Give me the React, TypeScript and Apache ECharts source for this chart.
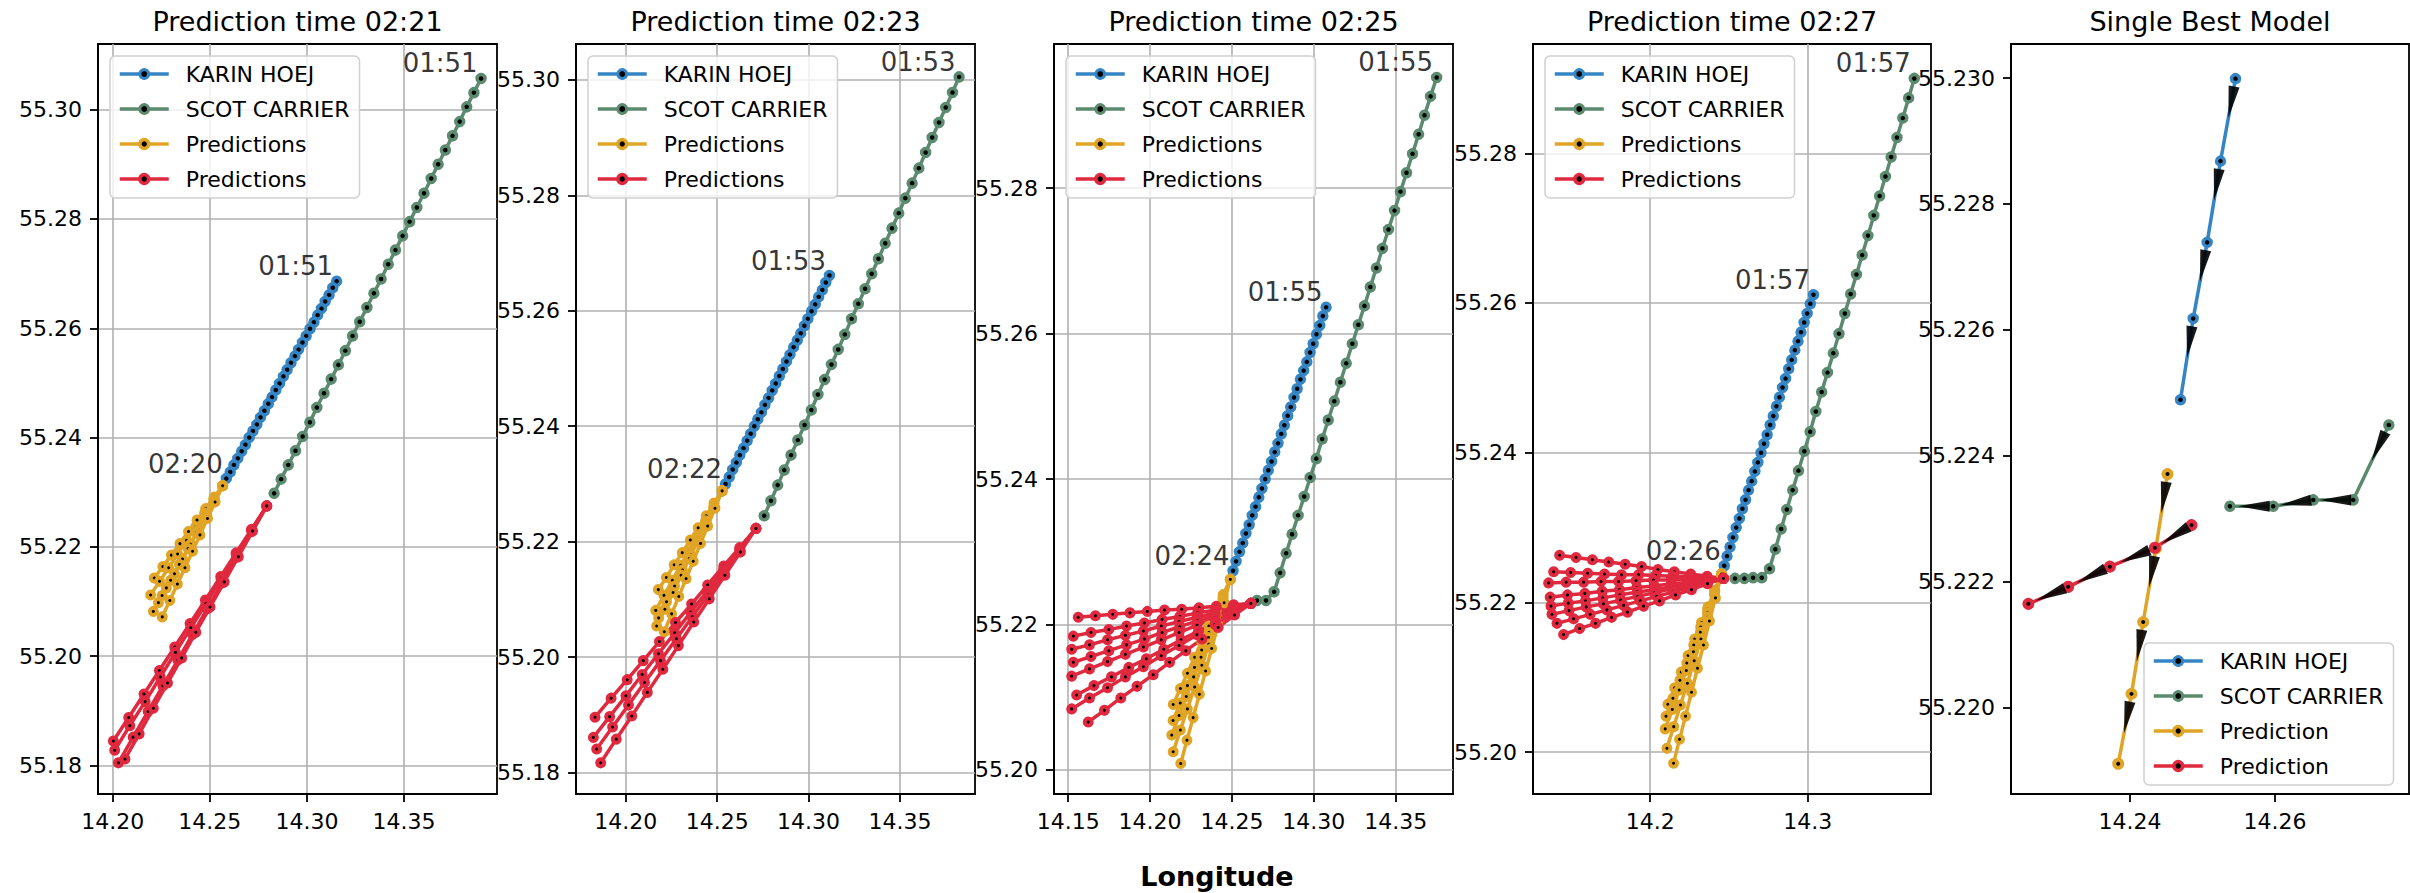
import React, { useEffect, useRef } from "react";
import * as echarts from "echarts";

// ---------------- data ----------------
const PANEL_TITLES = ["Prediction time 02:21", "Prediction time 02:23", "Prediction time 02:25", "Prediction time 02:27", "Single Best Model"];
const TIMES = ["01:51","01:52","01:53","01:54","01:55","01:56","01:57","01:58","01:59","02:00",
  "02:01","02:02","02:03","02:04","02:05","02:06","02:07","02:08","02:09","02:10",
  "02:11","02:12","02:13","02:14","02:15","02:16","02:17","02:18","02:19","02:20",
  "02:21","02:22","02:23","02:24","02:25","02:26"];
const WINDOW_START = [0, 2, 4, 6];
const WINDOW_LEN = 30;
const BEST_START = 31;
const BEST_LEN = 5;

const KARIN_LON = [14.3153,14.3133,14.3114,14.3094,14.3075,14.3055,14.3036,14.3016,14.2996,14.2977,
  14.2957,14.2938,14.2918,14.2898,14.2879,14.2859,14.2840,14.2820,14.2801,14.2781,
  14.2761,14.2742,14.2722,14.2703,14.2683,14.2664,14.2644,14.2624,14.2605,14.2585,
  14.2566,14.25457,14.25250,14.25066,14.24873,14.24698];
const KARIN_LAT = [55.2686,55.2674,55.2661,55.2649,55.2636,55.2624,55.2611,55.2599,55.2586,55.2574,
  55.2561,55.2549,55.2537,55.2524,55.2512,55.2499,55.2487,55.2474,55.2462,55.2449,
  55.2437,55.2424,55.2412,55.2400,55.2387,55.2375,55.2362,55.2350,55.2337,55.2325,
  55.2312,55.22999,55.22868,55.22739,55.22618,55.22489];
const SCOT_LON = [14.3897,14.3860,14.3823,14.3787,14.3750,14.3713,14.3676,14.3640,14.3603,14.3566,
  14.3529,14.3493,14.3456,14.3419,14.3382,14.3345,14.3309,14.3272,14.3235,14.3198,
  14.3162,14.3125,14.3088,14.3051,14.3015,14.2978,14.2941,14.2904,14.2867,14.2831,
  14.2794,14.27572,14.27080,14.26529,14.25977,14.25379];
const SCOT_LAT = [55.3057,55.3031,55.3005,55.2978,55.2952,55.2926,55.2900,55.2874,55.2847,55.2821,
  55.2795,55.2769,55.2743,55.2717,55.2690,55.2664,55.2638,55.2612,55.2586,55.2559,
  55.2533,55.2507,55.2481,55.2455,55.2428,55.2402,55.2376,55.2350,55.2324,55.2298,
  55.2271,55.22449,55.22330,55.22330,55.22320,55.22320];

// prediction fans (KARIN HOEJ = orange, SCOT CARRIER = red)
const KARIN_PRED_0221 = [
  [[14.2566,55.2312],[14.2522,55.2291],[14.2478,55.2270],[14.2434,55.2249],[14.2390,55.2228],[14.2346,55.2206],[14.2302,55.2185],[14.2258,55.2164],[14.2214,55.2143]],
  [[14.2566,55.2312],[14.2520,55.2287],[14.2473,55.2262],[14.2427,55.2237],[14.2380,55.2212],[14.2334,55.2187],[14.2288,55.2162],[14.2241,55.2137],[14.2195,55.2112]],
  [[14.2566,55.2312],[14.2525,55.2285],[14.2483,55.2258],[14.2442,55.2232],[14.2400,55.2205],[14.2359,55.2178],[14.2318,55.2151],[14.2276,55.2125],[14.2235,55.2098]],
  [[14.2566,55.2312],[14.2521,55.2283],[14.2477,55.2254],[14.2432,55.2226],[14.2388,55.2197],[14.2343,55.2168],[14.2298,55.2139],[14.2254,55.2111],[14.2209,55.2082]],
  [[14.2566,55.2312],[14.2527,55.2282],[14.2488,55.2252],[14.2449,55.2222],[14.2411,55.2192],[14.2372,55.2162],[14.2333,55.2132],[14.2294,55.2102],[14.2255,55.2072]],
];
const SCOT_PRED_0221 = [
  [[14.2793,55.2275],[14.2714,55.2232],[14.2635,55.2189],[14.2556,55.2146],[14.2477,55.2103],[14.2398,55.2060],[14.2319,55.2017],[14.2240,55.1974],[14.2161,55.1931],[14.2082,55.1888],[14.2003,55.1845]],
  [[14.2793,55.2275],[14.2715,55.2230],[14.2636,55.2186],[14.2558,55.2141],[14.2480,55.2096],[14.2402,55.2052],[14.2323,55.2007],[14.2245,55.1962],[14.2167,55.1917],[14.2088,55.1873],[14.2010,55.1828]],
  [[14.2793,55.2275],[14.2717,55.2228],[14.2640,55.2181],[14.2564,55.2134],[14.2487,55.2087],[14.2411,55.2040],[14.2335,55.1993],[14.2258,55.1946],[14.2182,55.1899],[14.2105,55.1852],[14.2029,55.1805]],
  [[14.2793,55.2275],[14.2720,55.2229],[14.2647,55.2182],[14.2574,55.2136],[14.2501,55.2090],[14.2428,55.2044],[14.2355,55.1997],[14.2282,55.1951],[14.2209,55.1905],[14.2136,55.1858],[14.2063,55.1812]],
];
const KARIN_PRED_0223 = [
  [[14.2527,55.2288],[14.2483,55.2267],[14.2440,55.2245],[14.2396,55.2224],[14.2353,55.2203],[14.2309,55.2181],[14.2265,55.2160],[14.2222,55.2138],[14.2178,55.2117]],
  [[14.2527,55.2288],[14.2482,55.2262],[14.2436,55.2236],[14.2391,55.2210],[14.2346,55.2184],[14.2300,55.2159],[14.2255,55.2133],[14.2209,55.2107],[14.2164,55.2081]],
  [[14.2527,55.2288],[14.2484,55.2261],[14.2440,55.2233],[14.2397,55.2206],[14.2353,55.2178],[14.2310,55.2151],[14.2267,55.2123],[14.2223,55.2096],[14.2180,55.2068]],
  [[14.2527,55.2288],[14.2482,55.2259],[14.2438,55.2230],[14.2393,55.2200],[14.2348,55.2171],[14.2303,55.2142],[14.2259,55.2112],[14.2214,55.2083],[14.2169,55.2054]],
  [[14.2527,55.2288],[14.2488,55.2258],[14.2448,55.2227],[14.2409,55.2197],[14.2369,55.2166],[14.2330,55.2136],[14.2290,55.2105],[14.2251,55.2075],[14.2211,55.2044]],
];
const SCOT_PRED_0223 = [
  [[14.2712,55.2223],[14.2624,55.2190],[14.2536,55.2158],[14.2448,55.2125],[14.2360,55.2092],[14.2272,55.2060],[14.2184,55.2027],[14.2096,55.1994],[14.2008,55.1961],[14.1920,55.1929],[14.1832,55.1896]],
  [[14.2712,55.2223],[14.2623,55.2187],[14.2534,55.2151],[14.2445,55.2114],[14.2356,55.2078],[14.2268,55.2042],[14.2179,55.2006],[14.2090,55.1970],[14.2001,55.1933],[14.1912,55.1897],[14.1823,55.1861]],
  [[14.2712,55.2223],[14.2625,55.2185],[14.2538,55.2146],[14.2451,55.2108],[14.2364,55.2070],[14.2277,55.2032],[14.2190,55.1994],[14.2103,55.1956],[14.2015,55.1917],[14.1928,55.1879],[14.1841,55.1841]],
  [[14.2712,55.2223],[14.2627,55.2182],[14.2542,55.2142],[14.2457,55.2101],[14.2372,55.2061],[14.2288,55.2020],[14.2203,55.1979],[14.2118,55.1939],[14.2033,55.1898],[14.1948,55.1858],[14.1863,55.1817]],
];
const KARIN_PRED_0225 = [
  [[14.2490,55.2262],[14.2446,55.2241],[14.2403,55.2219],[14.2359,55.2198],[14.2316,55.2176],[14.2272,55.2155],[14.2228,55.2133],[14.2185,55.2112],[14.2141,55.2090]],
  [[14.2490,55.2262],[14.2446,55.2238],[14.2403,55.2213],[14.2359,55.2189],[14.2315,55.2165],[14.2271,55.2141],[14.2228,55.2116],[14.2184,55.2092],[14.2140,55.2068]],
  [[14.2490,55.2262],[14.2445,55.2235],[14.2401,55.2208],[14.2356,55.2182],[14.2311,55.2155],[14.2266,55.2128],[14.2221,55.2101],[14.2177,55.2075],[14.2132,55.2048]],
  [[14.2490,55.2262],[14.2446,55.2232],[14.2403,55.2203],[14.2359,55.2173],[14.2316,55.2144],[14.2272,55.2114],[14.2228,55.2084],[14.2185,55.2055],[14.2141,55.2025]],
  [[14.2490,55.2262],[14.2452,55.2230],[14.2414,55.2199],[14.2376,55.2167],[14.2339,55.2136],[14.2301,55.2104],[14.2263,55.2072],[14.2225,55.2041],[14.2187,55.2009]],
];
const SCOT_PRED_0225 = [
  [[14.2615,55.2229],[14.2510,55.2227],[14.2404,55.2225],[14.2299,55.2223],[14.2193,55.2221],[14.2088,55.2220],[14.1983,55.2218],[14.1877,55.2216],[14.1772,55.2214],[14.1666,55.2212],[14.1561,55.2210]],
  [[14.2615,55.2229],[14.2507,55.2225],[14.2398,55.2220],[14.2290,55.2216],[14.2181,55.2211],[14.2073,55.2207],[14.1965,55.2202],[14.1856,55.2198],[14.1748,55.2193],[14.1639,55.2189],[14.1531,55.2184]],
  [[14.2615,55.2229],[14.2506,55.2223],[14.2396,55.2216],[14.2287,55.2210],[14.2177,55.2204],[14.2068,55.2198],[14.1959,55.2191],[14.1849,55.2185],[14.1740,55.2179],[14.1630,55.2172],[14.1521,55.2166]],
  [[14.2615,55.2229],[14.2507,55.2221],[14.2398,55.2213],[14.2290,55.2205],[14.2181,55.2197],[14.2073,55.2189],[14.1965,55.2180],[14.1856,55.2172],[14.1748,55.2164],[14.1639,55.2156],[14.1531,55.2148]],
  [[14.2615,55.2229],[14.2506,55.2219],[14.2396,55.2209],[14.2287,55.2199],[14.2177,55.2189],[14.2068,55.2179],[14.1959,55.2169],[14.1849,55.2159],[14.1740,55.2149],[14.1630,55.2139],[14.1521,55.2129]],
  [[14.2615,55.2229],[14.2509,55.2216],[14.2402,55.2204],[14.2296,55.2191],[14.2189,55.2179],[14.2083,55.2166],[14.1977,55.2153],[14.1870,55.2141],[14.1764,55.2128],[14.1657,55.2116],[14.1551,55.2103]],
  [[14.2615,55.2229],[14.2506,55.2215],[14.2396,55.2200],[14.2287,55.2186],[14.2177,55.2171],[14.2068,55.2157],[14.1959,55.2142],[14.1849,55.2128],[14.1740,55.2113],[14.1630,55.2099],[14.1521,55.2084]],
  [[14.2615,55.2229],[14.2516,55.2213],[14.2416,55.2196],[14.2317,55.2180],[14.2218,55.2164],[14.2119,55.2148],[14.2019,55.2131],[14.1920,55.2115],[14.1821,55.2099],[14.1721,55.2082],[14.1622,55.2066]],
];
const KARIN_PRED_0227 = [
  [[14.2452,55.2238],[14.2410,55.2216],[14.2367,55.2194],[14.2325,55.2173],[14.2282,55.2151],[14.2240,55.2129],[14.2197,55.2107],[14.2155,55.2086],[14.2112,55.2064]],
  [[14.2452,55.2238],[14.2408,55.2214],[14.2364,55.2191],[14.2320,55.2167],[14.2276,55.2143],[14.2232,55.2119],[14.2188,55.2096],[14.2144,55.2072],[14.2100,55.2048]],
  [[14.2452,55.2238],[14.2407,55.2212],[14.2363,55.2186],[14.2318,55.2160],[14.2274,55.2134],[14.2229,55.2109],[14.2184,55.2083],[14.2140,55.2057],[14.2095,55.2031]],
  [[14.2452,55.2238],[14.2409,55.2209],[14.2365,55.2180],[14.2322,55.2151],[14.2279,55.2122],[14.2236,55.2092],[14.2192,55.2063],[14.2149,55.2034],[14.2106,55.2005]],
  [[14.2452,55.2238],[14.2414,55.2206],[14.2376,55.2175],[14.2338,55.2143],[14.2300,55.2112],[14.2262,55.2080],[14.2224,55.2048],[14.2186,55.2017],[14.2148,55.1985]],
];
const SCOT_PRED_0227 = [
  [[14.2465,55.2232],[14.2361,55.2235],[14.2257,55.2238],[14.2153,55.2241],[14.2049,55.2244],[14.1945,55.2248],[14.1841,55.2251],[14.1737,55.2254],[14.1633,55.2257],[14.1529,55.2260],[14.1425,55.2263]],
  [[14.2465,55.2232],[14.2357,55.2233],[14.2249,55.2234],[14.2142,55.2235],[14.2034,55.2236],[14.1926,55.2237],[14.1818,55.2237],[14.1710,55.2238],[14.1603,55.2239],[14.1495,55.2240],[14.1387,55.2241]],
  [[14.2465,55.2232],[14.2354,55.2231],[14.2243,55.2231],[14.2132,55.2230],[14.2021,55.2230],[14.1910,55.2229],[14.1799,55.2228],[14.1688,55.2228],[14.1577,55.2227],[14.1466,55.2227],[14.1355,55.2226]],
  [[14.2465,55.2232],[14.2355,55.2230],[14.2245,55.2227],[14.2135,55.2225],[14.2025,55.2222],[14.1915,55.2220],[14.1805,55.2217],[14.1695,55.2215],[14.1585,55.2212],[14.1475,55.2210],[14.1365,55.2207]],
  [[14.2465,55.2232],[14.2356,55.2228],[14.2246,55.2225],[14.2137,55.2221],[14.2027,55.2217],[14.1918,55.2214],[14.1808,55.2210],[14.1699,55.2206],[14.1589,55.2202],[14.1480,55.2199],[14.1370,55.2195]],
  [[14.2465,55.2232],[14.2356,55.2227],[14.2247,55.2222],[14.2138,55.2218],[14.2029,55.2213],[14.1921,55.2208],[14.1812,55.2203],[14.1703,55.2198],[14.1594,55.2194],[14.1485,55.2189],[14.1376,55.2184]],
  [[14.2465,55.2232],[14.2359,55.2226],[14.2254,55.2220],[14.2148,55.2214],[14.2042,55.2208],[14.1937,55.2202],[14.1831,55.2196],[14.1725,55.2190],[14.1619,55.2184],[14.1514,55.2178],[14.1408,55.2172]],
  [[14.2465,55.2232],[14.2364,55.2225],[14.2262,55.2217],[14.2161,55.2210],[14.2059,55.2202],[14.1958,55.2195],[14.1856,55.2187],[14.1755,55.2180],[14.1653,55.2172],[14.1552,55.2165],[14.1450,55.2157]],
];
const KARIN_PREDS = [KARIN_PRED_0221, KARIN_PRED_0223, KARIN_PRED_0225, KARIN_PRED_0227];
const SCOT_PREDS = [SCOT_PRED_0221, SCOT_PRED_0223, SCOT_PRED_0225, SCOT_PRED_0227];

// single best model predictions
const KARIN_BEST_PRED = [[14.24519,55.22371],[14.24358,55.22253],[14.24183,55.22136],[14.24022,55.22022],[14.23839,55.21911]];
const SCOT_BEST_PRED = [[14.24850,55.22290],[14.24345,55.22254],[14.23724,55.22224],[14.23149,55.22192],[14.22600,55.22165]];

// tick labels
const X_TICKS = [
  [14.20, 14.25, 14.30, 14.35],
  [14.20, 14.25, 14.30, 14.35],
  [14.15, 14.20, 14.25, 14.30, 14.35],
  [14.2, 14.3],
  [14.24, 14.26],
];
const Y_TICKS = [
  [55.18, 55.20, 55.22, 55.24, 55.26, 55.28, 55.30],
  [55.18, 55.20, 55.22, 55.24, 55.26, 55.28, 55.30],
  [55.20, 55.22, 55.24, 55.26, 55.28],
  [55.20, 55.22, 55.24, 55.26, 55.28],
  [55.220, 55.222, 55.224, 55.226, 55.228, 55.230],
];
const X_DEC = [2, 2, 2, 1, 2];
const Y_DEC = [2, 2, 2, 2, 3];

// ---------------- styling / layout ----------------
const FONT = "'DejaVu Sans', sans-serif";
const BLUE = "#3585c5";
const GREEN = "#5b8a6f";
const ORANGE = "#e0a526";
const RED = "#e0283e";

const GRID_LEFT = [98, 576, 1054, 1533, 2011];
const GRID_W = [399, 399, 399, 398, 398];
const GRID_TOP = 44;
const GRID_H = 750;
const X_RANGE = [[14.1924, 14.3979], [14.1728, 14.3910], [14.1413, 14.3850], [14.1256, 14.3782], [14.2236, 14.2785]];
const Y_RANGE = [[55.1748, 55.3120], [55.1763, 55.3062], [55.1967, 55.2998], [55.1944, 55.2946], [55.21863, 55.23054]];

function zip(lon: number[], lat: number[], s: number, n: number) {
  const out: number[][] = [];
  for (let k = s; k < s + n; k++) out.push([lon[k], lat[k]]);
  return out;
}

function lineSeries(name: string, i: number, data: number[][], color: string, size: number, bw: number, lw: number, z: number) {
  return {
    type: "line", name, xAxisIndex: i, yAxisIndex: i, data,
    symbol: "circle", symbolSize: size, showSymbol: true, showAllSymbol: true,
    lineStyle: { color, width: lw },
    itemStyle: { color: "#000", borderColor: color, borderWidth: bw },
    emphasis: { disabled: true }, silent: true, z, animation: false,
  };
}

function legendData(color: string, name: string, bw: number) {
  return {
    name,
    itemStyle: { color: "#000", borderColor: color, borderWidth: bw },
    lineStyle: { color, width: 3.5 },
  };
}

function buildOption() {
  const grid: any[] = [], xAxis: any[] = [], yAxis: any[] = [], series: any[] = [], legend: any[] = [], graphic: any[] = [];
  for (let i = 0; i < 5; i++) {
    grid.push({ left: GRID_LEFT[i], top: GRID_TOP, width: GRID_W[i], height: GRID_H, show: true, borderColor: "#000", borderWidth: 1.8, backgroundColor: "transparent" });
    const common = (ticks: number[], dec: number, range: number[], margin: number) => ({
      type: "value", gridIndex: i, min: range[0], max: range[1], scale: true,
      axisLine: { show: true, onZero: false, lineStyle: { color: "#000", width: 1.8 } },
      axisTick: { show: true, inside: false, length: 8, lineStyle: { color: "#000", width: 1.8 }, customValues: ticks },
      axisLabel: { show: true, customValues: ticks, formatter: (v: number) => Number(v).toFixed(dec), color: "#000", fontSize: 22, fontFamily: FONT, margin, hideOverlap: false },
      splitLine: { show: i < 4, lineStyle: { color: "#b0b0b0", width: 1.6 } },
    });
    xAxis.push(common(X_TICKS[i], X_DEC[i], X_RANGE[i], 16));
    yAxis.push(common(Y_TICKS[i], Y_DEC[i], Y_RANGE[i], 16));
    graphic.push({ type: "text", x: GRID_LEFT[i] + GRID_W[i] / 2, y: 21, silent: true,
      style: { text: PANEL_TITLES[i], font: `27px ${FONT}`, fill: "#000", align: "center", verticalAlign: "middle" } });
  }

  const legendItems = [legendData(BLUE, "KARIN HOEJ", 3), legendData(GREEN, "SCOT CARRIER", 3), legendData(ORANGE, "predK", 3.5), legendData(RED, "predS", 3.5)];
  const legendCommon = {
    orient: "vertical", selectedMode: false, itemWidth: 49, itemHeight: 11, itemGap: 11,
    padding: [6, 10, 7, 8], backgroundColor: "rgba(255,255,255,0.8)", borderColor: "#d0d0d0", borderWidth: 1.5, borderRadius: 5,
    textStyle: { fontSize: 22, fontFamily: FONT, color: "#000", lineHeight: 24, padding: [0, 0, 0, 12] },
    data: legendItems,
  };

  for (let i = 0; i < 4; i++) {
    const s = WINDOW_START[i];
    const e = s + WINDOW_LEN - 1;
    series.push(lineSeries("KARIN HOEJ", i, zip(KARIN_LON, KARIN_LAT, s, WINDOW_LEN), BLUE, 8, 3.5, 3.5, 2));
    series.push(lineSeries("SCOT CARRIER", i, zip(SCOT_LON, SCOT_LAT, s, WINDOW_LEN), GREEN, 8, 3.5, 3.5, 2));
    KARIN_PREDS[i].forEach((ln) => series.push(lineSeries("predK", i, ln, ORANGE, 7, 4, 3.5, 3)));
    SCOT_PREDS[i].forEach((ln) => series.push(lineSeries("predS", i, ln, RED, 7, 4, 3.5, 3)));
    series.push({
      type: "scatter", name: "annotations", xAxisIndex: i, yAxisIndex: i, symbolSize: 1, silent: true, z: 20,
      itemStyle: { color: "rgba(0,0,0,0)" },
      label: { show: true, position: "left", distance: 3, offset: [0, -15], fontSize: 26, color: "#000", fontFamily: FONT, formatter: "{b}" },
      data: [
        { name: TIMES[s], value: [SCOT_LON[s], SCOT_LAT[s]] },
        { name: TIMES[s], value: [KARIN_LON[s], KARIN_LAT[s]] },
        { name: TIMES[e], value: [KARIN_LON[e], KARIN_LAT[e]] },
      ],
    });
    legend.push({ ...legendCommon, left: GRID_LEFT[i] + 12, top: 56,
      formatter: (n: string) => (n === "predK" || n === "predS" ? "Predictions" : n) });
  }

  // single best model panel
  const tracks5 = [
    { name: "KARIN HOEJ", data: zip(KARIN_LON, KARIN_LAT, BEST_START, BEST_LEN), color: BLUE, bw: 3.5 },
    { name: "SCOT CARRIER", data: zip(SCOT_LON, SCOT_LAT, BEST_START, BEST_LEN), color: GREEN, bw: 3.5 },
    { name: "predK", data: KARIN_BEST_PRED, color: ORANGE, bw: 4 },
    { name: "predS", data: SCOT_BEST_PRED, color: RED, bw: 4 },
  ];
  const sx = GRID_W[4] / (X_RANGE[4][1] - X_RANGE[4][0]);
  const sy = GRID_H / (Y_RANGE[4][1] - Y_RANGE[4][0]);
  const arrows: any[] = [];
  tracks5.forEach((t) => {
    series.push(lineSeries(t.name, 4, t.data, t.color, 8, t.bw, 3.5, 2));
    for (let k = 0; k < t.data.length - 1; k++) {
      const dx = (t.data[k + 1][0] - t.data[k][0]) * sx;
      const dy = (t.data[k + 1][1] - t.data[k][1]) * sy;
      const len = Math.hypot(dx, dy);
      const ux = dx / len, uy = dy / len;
      const off = Math.min(24, len * 0.45);
      const ang = (Math.atan2(dy, dx) * 180) / Math.PI - 90;
      arrows.push({ value: t.data[k], symbolRotate: ang, symbolOffset: [ux * off, -uy * off] });
    }
  });
  series.push({
    type: "scatter", name: "arrows", xAxisIndex: 4, yAxisIndex: 4, silent: true, z: 10,
    symbol: "path://M5 0 L10 30 L0 30 Z", symbolSize: [11, 32],
    itemStyle: { color: "#000", opacity: 0.9 }, data: arrows,
  });
  legend.push({ ...legendCommon, left: 2144, top: 643,
    formatter: (n: string) => (n === "predK" || n === "predS" ? "Prediction" : n) });

  graphic.push({ type: "text", x: 1217, y: 876, silent: true,
    style: { text: "Longitude", font: `bold 27px ${FONT}`, fill: "#000", align: "center", verticalAlign: "middle" } });

  return { animation: false, backgroundColor: "#fff", grid, xAxis, yAxis, series, legend, graphic };
}

export default function App() {
  const ref = useRef<HTMLDivElement>(null);
  useEffect(() => {
    if (!ref.current) return;
    const chart = echarts.init(ref.current, null, { renderer: "svg" });
    chart.setOption(buildOption() as any);
    return () => chart.dispose();
  }, []);
  return <div ref={ref} style={{ position: "absolute", left: 0, top: 0, width: 2410, height: 893 }} />;
}
